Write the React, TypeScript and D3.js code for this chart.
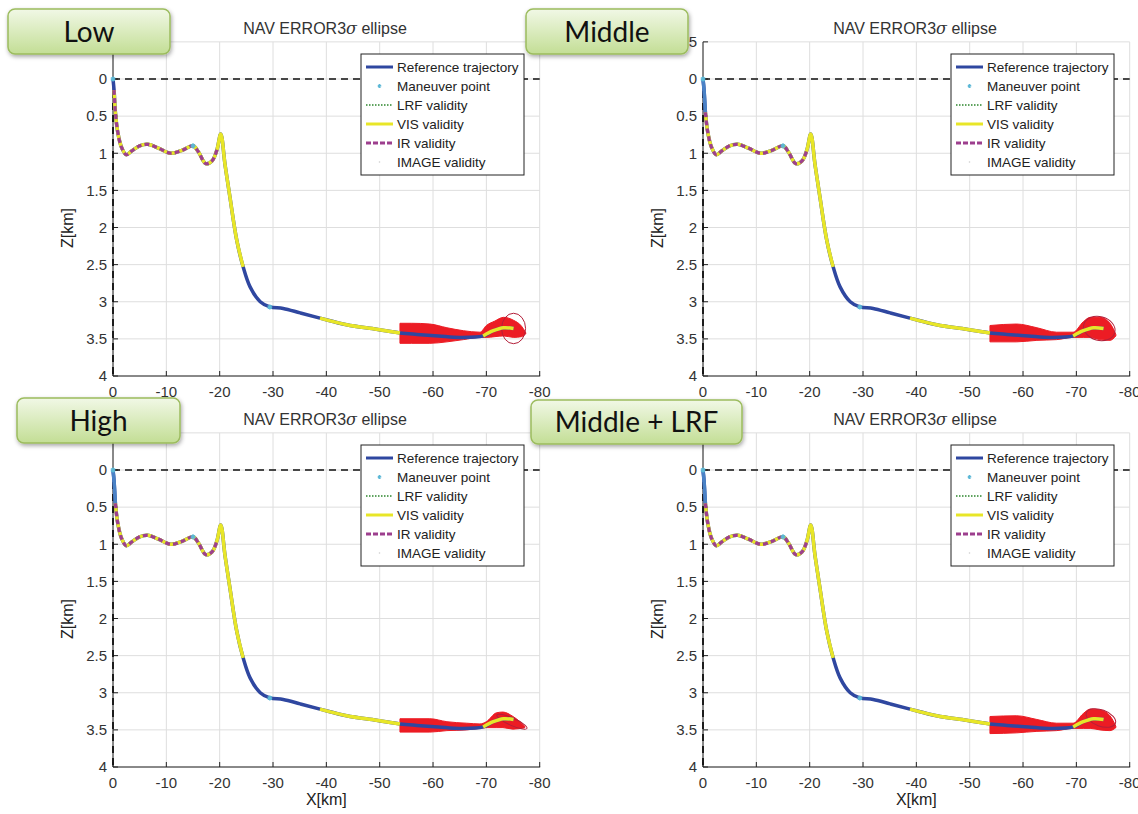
import React from "react";
import * as d3 from "d3";

// ---------- data ----------
const xTicks = [0, -10, -20, -30, -40, -50, -60, -70, -80];
const zTicks = [-0.5, 0, 0.5, 1, 1.5, 2, 2.5, 3, 3.5, 4];
const zTickLabels = ["-0.5", "0", "0.5", "1", "1.5", "2", "2.5", "3", "3.5", "4"];

// reference trajectory (km)
const trajX = [0, -0.2, -0.45, -0.9, -1.6, -2.5, -3.5, -5, -6.5, -8.5, -10.8, -13, -15, -16, -17.4, -18.6, -19.5, -20.2,
  -21, -21.9, -23.2, -24.4, -25.7, -27.6, -29.4, -31.9, -35.1, -38.8, -43.8, -49.4, -53.8, -57, -61, -65, -69.4, -71.3, -73.2, -75.1];
const trajZ = [0, 0.15, 0.45, 0.72, 0.92, 1.02, 0.97, 0.9, 0.88, 0.93, 1.0, 0.96, 0.9, 0.98, 1.14, 1.1, 0.95, 0.74,
  1.15, 1.58, 2.17, 2.53, 2.8, 3.0, 3.07, 3.09, 3.15, 3.22, 3.31, 3.37, 3.42, 3.44, 3.46, 3.48, 3.46, 3.39, 3.35, 3.36];

const maneuverX = [0, -15, -29.4];
const maneuverZ = [0, 0.9, 3.07];

const panelNames = ["Low", "Middle", "High", "Middle + LRF"];
// index ranges along the trajectory
const irRanges = [[1, 16], [2, 16], [2, 16], [2, 16]];
const visRanges = [
  [[1, 21], [27, 30], [34, 37]],
  [[2, 21], [27, 30], [34, 37]],
  [[2, 21], [27, 30], [34, 37]],
  [[2, 21], [27, 30], [34, 37]],
];

// 3-sigma ellipse envelopes per panel (km)
const blobLowX = [-53.8, -56, -59.4, -62.6, -65.7, -68.8, -70, -71.6, -73.2, -75.1, -76.6, -77.4];
const blobLowTop = [3.29, 3.29, 3.30, 3.35, 3.39, 3.41, 3.32, 3.26, 3.21, 3.25, 3.33, 3.42];
const blobLowBot = [3.56, 3.56, 3.56, 3.54, 3.51, 3.48, 3.48, 3.47, 3.46, 3.48, 3.47, 3.43];

const blobMidX = [-53.8, -58.8, -62.6, -66.3, -69.4, -71.3, -72.6, -74.4, -76.3, -77.4];
const blobMidTop = [3.32, 3.30, 3.35, 3.41, 3.41, 3.27, 3.21, 3.21, 3.29, 3.44];
const blobMidBot = [3.54, 3.54, 3.52, 3.51, 3.48, 3.48, 3.48, 3.51, 3.52, 3.46];

const blobHighX = [-53.8, -59.4, -62.6, -66.3, -68.8, -70, -71.9, -73.1, -75, -77.2];
const blobHighTop = [3.35, 3.35, 3.39, 3.41, 3.42, 3.39, 3.27, 3.26, 3.32, 3.45];
const blobHighBot = [3.53, 3.53, 3.51, 3.50, 3.48, 3.47, 3.47, 3.47, 3.49, 3.47];

const blobLrfX = [-53.8, -58.8, -62.6, -66.3, -69.4, -71.3, -72.6, -74.4, -76.3, -77.4];
const blobLrfTop = [3.32, 3.31, 3.36, 3.41, 3.41, 3.28, 3.22, 3.23, 3.31, 3.45];
const blobLrfBot = [3.55, 3.54, 3.52, 3.51, 3.48, 3.48, 3.48, 3.50, 3.51, 3.47];

// last ellipse: centre x, centre z, semi-axis x (km), semi-axis z (km), tilt (deg)
const lastEllipse = [
  [-75.1, 3.36, 2.25, 0.205, 0],
  [-74.3, 3.36, 3.0, 0.16, 15],
  [-74.8, 3.39, 3.08, 0.05, 24],
  [-74.6, 3.34, 2.9, 0.11, 20],
];

const legendLabels = ["Reference trajectory", "Maneuver point", "LRF validity", "VIS validity", "IR validity", "IMAGE validity"];

// ---------- layout ----------
const origins = [[113, 79], [703, 79], [113, 470], [703, 470]];
const boxes = [
  [8, 9, 162, 45],
  [526, 9, 162, 45],
  [17, 398, 163, 45],
  [531, 400, 211, 44],
];
const PX_PER_KM_X = 426.7 / 80;
const PX_PER_KM_Z = 74.25;

const C_BLUE = "#2f47a0";
const C_YELLOW = "#e8e628";
const C_PURPLE = "#9d3f8e";
const C_GREEN = "#5fa35f";
const C_CYAN = "#5cb8d6";
const C_RED = "#ec1c24";
const FONT = "'Liberation Sans', Arial, sans-serif";

function Panel({ idx }: { idx: number }) {
  const [ox, oy] = origins[idx];
  const x = d3.scaleLinear().domain([0, -80]).range([ox, ox + 80 * PX_PER_KM_X]);
  const z = d3.scaleLinear().domain([0, 4]).range([oy, oy + 4 * PX_PER_KM_Z]);
  const zTop = z(-0.5), zBot = z(4);
  const xL = x(0), xR = x(-80);

  const pts = trajX.map((v, i) => [v, trajZ[i]] as [number, number]);
  const line = d3.line<[number, number]>().x(d => x(d[0])).y(d => z(d[1])).curve(d3.curveCatmullRom.alpha(0.5));
  const seg = (a: number, b: number) => line(pts.slice(a, b + 1)) || "";

  const blobs = [
    [blobLowX, blobLowTop, blobLowBot],
    [blobMidX, blobMidTop, blobMidBot],
    [blobHighX, blobHighTop, blobHighBot],
    [blobLrfX, blobLrfTop, blobLrfBot],
  ][idx];
  const area = d3.area<number>()
    .x(i => x(blobs[0][i]))
    .y0(i => z(blobs[1][i]))
    .y1(i => z(blobs[2][i]))
    .curve(d3.curveMonotoneX);
  const blobPath = area(d3.range(blobs[0].length)) || "";
  const el = lastEllipse[idx];

  const legX = ox + 248, legY = oy - 25;
  const star = d3.symbol(d3.symbolAsterisk, 18)();

  return (
    <g>
      {/* grid */}
      {xTicks.map(t => (
        <line key={"gx" + t} x1={x(t)} x2={x(t)} y1={zTop} y2={zBot} stroke="#dedede" strokeWidth={1} />
      ))}
      {zTicks.map(t => (
        <line key={"gz" + t} x1={xL} x2={xR} y1={z(t)} y2={z(t)} stroke="#dedede" strokeWidth={1} />
      ))}
      {/* axes */}
      <line x1={xL} x2={xL} y1={zTop} y2={zBot} stroke="#222" strokeWidth={1} />
      <line x1={xL} x2={xR + 0.5} y1={zBot} y2={zBot} stroke="#222" strokeWidth={1} />
      {zTicks.map(t => (
        <line key={"tz" + t} x1={xL} x2={xL + 5} y1={z(t)} y2={z(t)} stroke="#222" />
      ))}
      {xTicks.map(t => (
        <line key={"tx" + t} x1={x(t)} x2={x(t)} y1={zBot} y2={zBot - 5} stroke="#222" />
      ))}
      {zTicks.map((t, i) => (
        <text key={"lz" + t} x={xL - 6} y={z(t)} dy="0.35em" textAnchor="end" fontSize={15} fontFamily={FONT} fill="#333">{zTickLabels[i]}</text>
      ))}
      {xTicks.map(t => (
        <text key={"lx" + t} x={x(t)} y={zBot + 16} dy="0.35em" textAnchor="middle" fontSize={15} fontFamily={FONT} fill="#333">{t}</text>
      ))}
      {/* axis labels */}
      <text transform={`translate(${ox - 40},${oy + 149}) rotate(-90)`} textAnchor="middle" fontSize={16} fontFamily={FONT} fill="#222">Z[km]</text>
      {idx >= 2 && (
        <text x={x(-40)} y={zBot + 38} textAnchor="middle" fontSize={16} fontFamily={FONT} fill="#222">X[km]</text>
      )}
      <text x={ox + 212} y={oy - 51} dy="0.35em" textAnchor="middle" fontSize={16} fontFamily={FONT} fill="#333">
        NAV ERROR3<tspan fontFamily="'DejaVu Serif', serif" fontStyle="italic">σ</tspan> ellipse
      </text>
      {/* reference lines */}
      <line x1={xL} x2={xR} y1={z(0)} y2={z(0)} stroke="#111" strokeWidth={1.3} strokeDasharray="7,5" />
      <line x1={xL} x2={xL} y1={z(0)} y2={zBot} stroke="#111" strokeWidth={1.8} strokeDasharray="7,5" />
      {/* ellipses */}
      <path d={blobPath} fill={C_RED} stroke={C_RED} strokeWidth={1} />
      <ellipse cx={0} cy={0} rx={el[2] * PX_PER_KM_X} ry={el[3] * PX_PER_KM_Z} fill="none" stroke="#b3203a" strokeWidth={1}
        transform={`translate(${x(el[0])},${z(el[1])}) rotate(${el[4]})`} />
      {/* trajectory */}
      <path d={seg(0, trajX.length - 1)} fill="none" stroke={C_BLUE} strokeWidth={3.5} />
      <path d={seg(0, 2)} fill="none" stroke="#4a82c6" strokeWidth={3.5} opacity={idx === 0 ? 0 : 1} />
      {visRanges[idx].map((r, i) => (
        <path key={"v" + i} d={seg(r[0], r[1])} fill="none" stroke={C_YELLOW} strokeWidth={3.5} />
      ))}
      <path d={seg(irRanges[idx][0], irRanges[idx][1])} fill="none" stroke={C_PURPLE} strokeWidth={3.2} strokeDasharray="5,3" />
      {maneuverX.map((v, i) => (
        <path key={"m" + i} d={star || ""} transform={`translate(${x(v)},${z(maneuverZ[i])})`} stroke={C_CYAN} strokeWidth={1.5} fill="none" />
      ))}
      {/* legend */}
      <rect x={legX} y={legY} width={163} height={121} fill="#fff" stroke="#222" strokeWidth={1} />
      {legendLabels.map((lab, i) => {
        const ly = legY + 13 + i * 19;
        const lx1 = legX + 5, lx2 = legX + 32;
        let sample: React.ReactNode = null;
        if (i === 0) sample = <line x1={lx1} x2={lx2} y1={ly} y2={ly} stroke={C_BLUE} strokeWidth={3} />;
        if (i === 1) sample = <path d={d3.symbol(d3.symbolAsterisk, 10)() || ""} transform={`translate(${(lx1 + lx2) / 2},${ly})`} stroke={C_CYAN} strokeWidth={1.3} fill="none" />;
        if (i === 2) sample = <line x1={lx1} x2={lx2} y1={ly} y2={ly} stroke={C_GREEN} strokeWidth={2} strokeDasharray="1.5,1.5" />;
        if (i === 3) sample = <line x1={lx1} x2={lx2} y1={ly} y2={ly} stroke={C_YELLOW} strokeWidth={3} />;
        if (i === 4) sample = <line x1={lx1} x2={lx2} y1={ly} y2={ly} stroke={C_PURPLE} strokeWidth={3} strokeDasharray="5,2" />;
        if (i === 5) sample = <circle cx={(lx1 + lx2) / 2} cy={ly} r={0.8} fill="#ccc" />;
        return (
          <g key={"lg" + i}>
            {sample}
            <text x={legX + 36} y={ly} dy="0.35em" fontSize={13.5} fontFamily={FONT} fill="#222">{lab}</text>
          </g>
        );
      })}
    </g>
  );
}

function LabelBox({ idx }: { idx: number }) {
  const [bx, by, bw, bh] = boxes[idx];
  return (
    <g>
      <rect x={bx} y={by} width={bw} height={bh} rx={7} ry={7} fill="url(#boxGrad)" stroke="#9cbc5e" strokeWidth={1.5} filter="url(#shadow)" />
      <text x={bx + bw / 2} y={by + bh / 2} dy="0.36em" textAnchor="middle" fontSize={28} fontFamily="Lato, 'Open Sans', sans-serif" fill="#111">{panelNames[idx]}</text>
    </g>
  );
}

export default function App() {
  return (
    <svg width={1138} height={814} style={{ position: "absolute", left: 0, top: 0, background: "#fff" }}>
      <defs>
        <linearGradient id="boxGrad" x1="0" y1="0" x2="0" y2="1">
          <stop offset="0" stopColor="#f1f8e6" />
          <stop offset="1" stopColor="#c3de95" />
        </linearGradient>
        <filter id="shadow" x="-10%" y="-20%" width="130%" height="160%">
          <feDropShadow dx={1} dy={2} stdDeviation={2} floodColor="#000" floodOpacity={0.35} />
        </filter>
      </defs>
      <rect x={0} y={0} width={1138} height={814} fill="#fff" />
      {[0, 1, 2, 3].map(i => <Panel key={i} idx={i} />)}
      {[0, 1, 2, 3].map(i => <LabelBox key={"b" + i} idx={i} />)}
    </svg>
  );
}
